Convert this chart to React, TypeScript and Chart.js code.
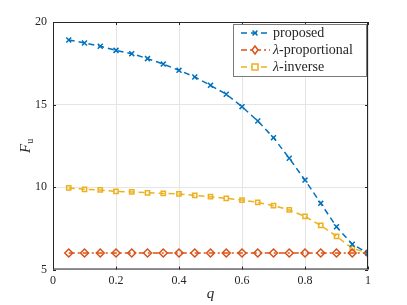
import React, { useEffect, useRef } from "react";
import { Chart, registerables } from "chart.js";

Chart.register(...registerables);

const qValues = [0.05, 0.1, 0.15, 0.2, 0.25, 0.3, 0.35, 0.4, 0.45, 0.5, 0.55, 0.6, 0.65, 0.7, 0.75, 0.8, 0.85, 0.9, 0.95, 1];
const proposed = [18.91, 18.73, 18.53, 18.28, 18.08, 17.78, 17.45, 17.07, 16.67, 16.16, 15.62, 14.87, 14.0, 12.99, 11.74, 10.42, 9.01, 7.59, 6.53, 6.0];
const lambdaProportional = [6, 6, 6, 6, 6, 6, 6, 6, 6, 6, 6, 6, 6, 6, 6, 6, 6, 6, 6, 6];
const lambdaInverse = [9.94, 9.86, 9.82, 9.73, 9.7, 9.65, 9.61, 9.58, 9.49, 9.41, 9.31, 9.21, 9.07, 8.87, 8.61, 8.22, 7.67, 7.01, 6.28, 6.0];
const xTicks = [0, 0.2, 0.4, 0.6, 0.8, 1];
const yTicks = [5, 10, 15, 20];

const BLUE = "#0072BD";
const RED = "#D95319";
const YELLOW = "#EDB120";
const AXIS = "#262626";
const FONT = "'Liberation Serif', 'DejaVu Serif', serif";

const seriesMeta = [
  { label: "proposed", prefix: "", color: BLUE, dash: [6, 4], point: "crossRot", radius: 3.5 },
  { label: "-proportional", prefix: "λ", color: RED, dash: [6, 3, 2, 3], point: "rectRot", radius: 4 },
  { label: "-inverse", prefix: "λ", color: YELLOW, dash: [6, 4], point: "rect", radius: 3 },
];

const decorPlugin = {
  id: "decor",
  afterDraw(chart: any) {
    const { ctx, chartArea } = chart;
    const { left, right, top, bottom } = chartArea;
    const xs = chart.scales.x;
    const ys = chart.scales.y;
    ctx.save();
    // box
    ctx.strokeStyle = AXIS;
    ctx.lineWidth = 1;
    ctx.setLineDash([]);
    ctx.strokeRect(left + 0.5, top + 0.5, right - left - 1, bottom - top - 1);
    // inward ticks
    ctx.beginPath();
    xTicks.forEach((v) => {
      const px = Math.round(xs.getPixelForValue(v)) + 0.5;
      ctx.moveTo(px, bottom);
      ctx.lineTo(px, bottom - 3);
      ctx.moveTo(px, top);
      ctx.lineTo(px, top + 3);
    });
    yTicks.forEach((v) => {
      const py = Math.round(ys.getPixelForValue(v)) + 0.5;
      ctx.moveTo(left, py);
      ctx.lineTo(left + 3, py);
      ctx.moveTo(right, py);
      ctx.lineTo(right - 3, py);
    });
    ctx.stroke();

    // axis titles
    ctx.fillStyle = AXIS;
    ctx.textAlign = "center";
    ctx.textBaseline = "middle";
    ctx.font = `italic 15px ${FONT}`;
    ctx.fillText("q", (left + right) / 2, 294);
    ctx.save();
    ctx.translate(26, (top + bottom) / 2);
    ctx.rotate(-Math.PI / 2);
    ctx.font = `italic 15px ${FONT}`;
    ctx.textAlign = "right";
    ctx.fillText("F", 2, 0);
    ctx.font = `10px ${FONT}`;
    ctx.textAlign = "left";
    ctx.fillText("u", 2, 4);
    ctx.restore();

    // legend
    const lx = 233, ly = 24, lw = 134, lh = 53;
    ctx.fillStyle = "#ffffff";
    ctx.fillRect(lx, ly, lw, lh);
    ctx.strokeStyle = "#7a7a7a";
    ctx.lineWidth = 1;
    ctx.strokeRect(lx + 0.5, ly + 0.5, lw - 1, lh - 1);
    seriesMeta.forEach((s, i) => {
      const y = ly + 9 + i * 17;
      ctx.strokeStyle = s.color;
      ctx.lineWidth = 1.5;
      ctx.setLineDash(s.dash);
      ctx.beginPath();
      ctx.moveTo(241, y);
      ctx.lineTo(270, y);
      ctx.stroke();
      ctx.setLineDash([]);
      ctx.beginPath();
      const cx = 255, r = s.radius;
      if (s.point === "crossRot") {
        ctx.moveTo(cx - r * 0.7, y - r * 0.7);
        ctx.lineTo(cx + r * 0.7, y + r * 0.7);
        ctx.moveTo(cx + r * 0.7, y - r * 0.7);
        ctx.lineTo(cx - r * 0.7, y + r * 0.7);
      } else if (s.point === "rectRot") {
        ctx.moveTo(cx, y - r);
        ctx.lineTo(cx + r * 0.75, y);
        ctx.lineTo(cx, y + r);
        ctx.lineTo(cx - r * 0.75, y);
        ctx.closePath();
        ctx.fillStyle = "#ffffff";
        ctx.fill();
      } else {
        ctx.rect(cx - r, y - r, 2 * r, 2 * r);
        ctx.fillStyle = "#ffffff";
        ctx.fill();
      }
      ctx.stroke();
      ctx.fillStyle = AXIS;
      ctx.textAlign = "left";
      ctx.textBaseline = "middle";
      let tx = 273;
      if (s.prefix) {
        ctx.font = `italic 14px ${FONT}`;
        ctx.fillText(s.prefix, tx, y);
        tx += ctx.measureText(s.prefix).width;
      }
      ctx.font = `14px ${FONT}`;
      ctx.fillText(s.label, tx, y);
    });
    ctx.restore();
  },
};

export default function App() {
  const ref = useRef<HTMLCanvasElement | null>(null);
  useEffect(() => {
    if (!ref.current) return;
    const seriesData = [proposed, lambdaProportional, lambdaInverse];
    const chart = new Chart(ref.current, {
      type: "line",
      data: {
        datasets: seriesMeta.map((s, i) => ({
          label: s.prefix + s.label,
          data: qValues.map((q, j) => ({ x: q, y: seriesData[i][j] })),
          borderColor: s.color,
          backgroundColor: "transparent",
          borderWidth: 1.5,
          borderDash: s.dash,
          pointStyle: s.point as any,
          pointRadius: s.radius,
          pointBorderColor: s.color,
          pointBackgroundColor: "transparent",
          pointBorderWidth: 1.5,
          fill: false,
          tension: 0,
        })),
      },
      options: {
        animation: false,
        responsive: false,
        events: [],
        layout: { padding: { left: 0, top: 22, right: 39, bottom: 0 } },
        plugins: { legend: { display: false }, tooltip: { enabled: false } },
        scales: {
          x: {
            type: "linear",
            min: 0,
            max: 1,
            afterBuildTicks: (scale: any) => {
              scale.ticks = xTicks.map((v) => ({ value: v }));
            },
            afterFit: (scale: any) => {
              scale.height = 35.5;
            },
            grid: { color: "#e5e5e5", drawTicks: false, lineWidth: 1 },
            border: { display: false },
            ticks: {
              color: AXIS,
              padding: 4,
              maxRotation: 0,
              font: { family: FONT, size: 12 },
              callback: (v: any) => String(v),
            },
          },
          y: {
            type: "linear",
            min: 5,
            max: 20,
            afterBuildTicks: (scale: any) => {
              scale.ticks = yTicks.map((v) => ({ value: v }));
            },
            afterFit: (scale: any) => {
              scale.width = 53;
            },
            grid: { color: "#e5e5e5", drawTicks: false, lineWidth: 1 },
            border: { display: false },
            ticks: {
              color: AXIS,
              padding: 6,
              font: { family: FONT, size: 12 },
              callback: (v: any) => String(v),
            },
          },
        },
      },
      plugins: [decorPlugin],
    });
    return () => chart.destroy();
  }, []);
  return (
    <div style={{ position: "fixed", left: 0, top: 0, width: 407, height: 305, background: "#fff" }}>
      <canvas ref={ref} width={407} height={305} style={{ display: "block", width: 407, height: 305 }} />
    </div>
  );
}
